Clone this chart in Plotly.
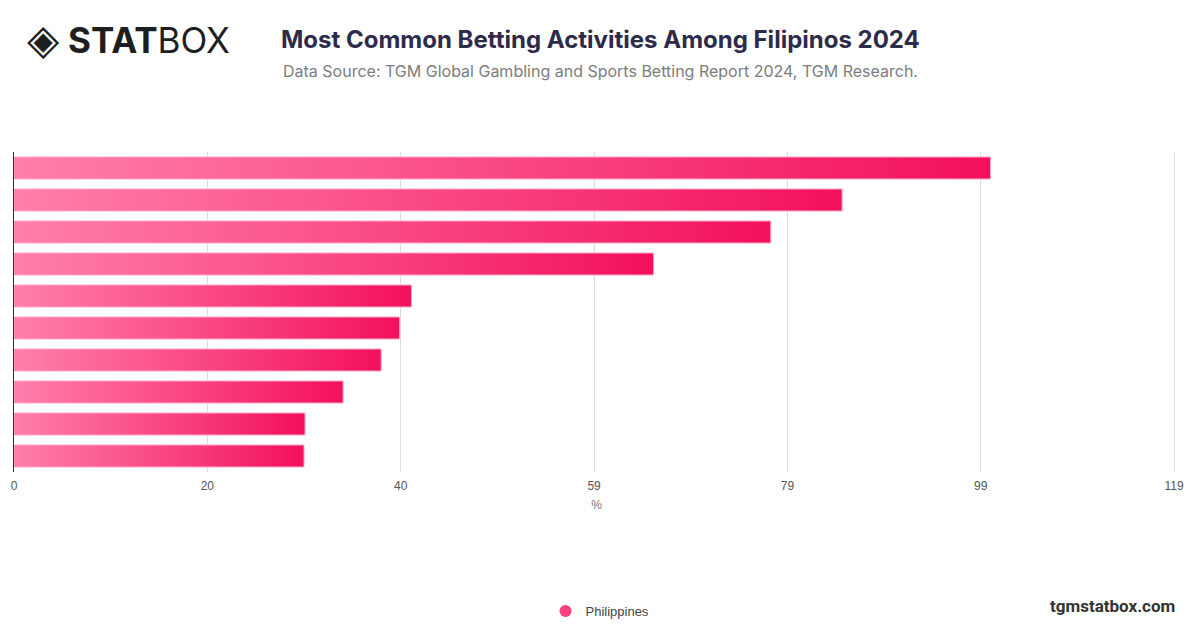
import plotly.graph_objects as go

# values (% of respondents), top bar first
activity_share = [100, 84.8, 77.5, 65.5, 40.7, 39.5, 37.6, 33.7, 29.8, 29.7]
series_name = "Philippines"

tick_vals = [0, 19.8, 39.6, 59.4, 79.2, 99, 118.8]
tick_text = ["0", "20", "40", "59", "79", "99", "119"]

title = "Most Common Betting Activities Among Filipinos 2024"
subtitle = "Data Source: TGM Global Gambling and Sports Betting Report 2024, TGM Research."

bar_half = 0.344
light_pink = "#ff7fab"
dark_pink = "#f3115e"

fig = go.Figure()

# each bar is a filled box so it can carry its own left-to-right gradient
for i, v in enumerate(activity_share):
    fig.add_trace(go.Scatter(
        x=[0, v, v, 0, 0],
        y=[i - bar_half, i - bar_half, i + bar_half, i + bar_half, i - bar_half],
        mode="lines", fill="toself",
        line=dict(color="#ffa8c6", width=1),
        fillgradient=dict(type="horizontal",
                          colorscale=[[0, light_pink], [1, dark_pink]]),
        showlegend=False, hoverinfo="text", text=f"{v}%",
    ))

# legend entry only
fig.add_trace(go.Scatter(
    x=[None], y=[None], mode="markers", name=series_name,
    marker=dict(size=14, color="#f8417e", symbol="circle"),
))

fig.update_layout(
    width=1200, height=628,
    paper_bgcolor="white", plot_bgcolor="white",
    margin=dict(l=14, r=21, t=152, b=156),
    font=dict(family="Liberation Sans, Arial, sans-serif", color="#555555", size=12),
    showlegend=True,
    legend=dict(orientation="h", xref="container", yref="container",
                x=0.5, xanchor="center", y=0.027, yanchor="middle",
                font=dict(size=13, color="#444444"), itemsizing="constant"),
    # range runs a bit past the last tick so its gridline is still drawn
    xaxis=dict(range=[0, 119.3], tickvals=tick_vals, ticktext=tick_text,
               showgrid=True, gridcolor="#dcdcdc", gridwidth=1,
               zeroline=False, showline=False,
               ticks="outside", ticklen=3, tickcolor="rgba(0,0,0,0)",
               title=dict(text="%", font=dict(size=12, color="#777777"), standoff=8),
               fixedrange=True),
    yaxis=dict(range=[9.5, -0.5], showticklabels=False, showgrid=False,
               zeroline=False, showline=True, linecolor="#333333", linewidth=1,
               fixedrange=True),
)

px_per_x = 1165
fig.add_annotation(text=title, xref="paper", yref="paper",
                   x=(600 - 14) / px_per_x, y=(472 - 39) / 320, showarrow=False,
                   xanchor="center", yanchor="middle",
                   font=dict(family="Inter, sans-serif", size=24, color="#2e2b4a", weight="bold"))
fig.add_annotation(text=subtitle, xref="paper", yref="paper",
                   x=(600 - 14) / px_per_x, y=(472 - 71) / 320, showarrow=False,
                   xanchor="center", yanchor="middle",
                   font=dict(family="Inter, sans-serif", size=16, color="#7d7d7d"))

# logo
fig.add_annotation(text="◈", xref="paper", yref="paper",
                   x=(25 - 14) / px_per_x, y=(472 - 40) / 320, showarrow=False,
                   xanchor="left", yanchor="middle",
                   font=dict(family="DejaVu Sans", size=42, color="#1e1e1e"))
fig.add_annotation(text="<b>STAT</b>BOX", xref="paper", yref="paper",
                   x=(66 - 14) / px_per_x, y=(472 - 40) / 320, showarrow=False,
                   xanchor="left", yanchor="middle",
                   font=dict(family="Inter, sans-serif", size=35, color="#1e1e1e"))

fig.add_annotation(text="<b>tgmstatbox.com</b>", xref="paper", yref="paper",
                   x=(1177 - 14) / px_per_x, y=(472 - 606) / 320, showarrow=False,
                   xanchor="right", yanchor="middle",
                   font=dict(family="Roboto, sans-serif", size=17, color="#333333"))

fig.write_html("out.html", config={"displayModeBar": False},
               post_script="document.body.style.margin='0';")
